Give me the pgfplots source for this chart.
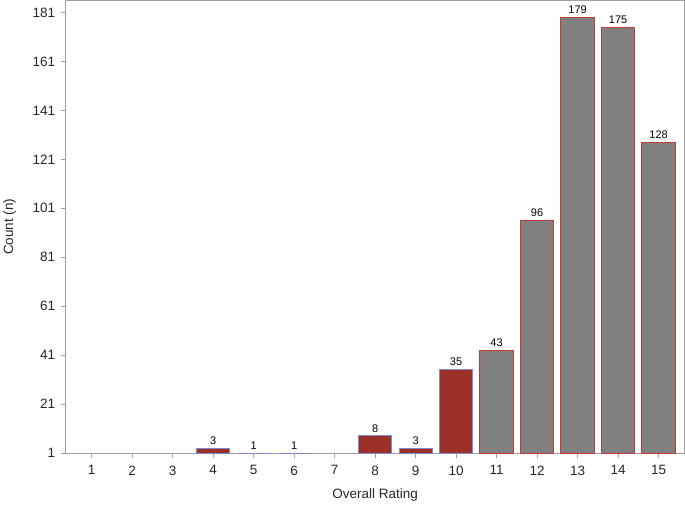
\documentclass[border=0pt]{standalone}
\usepackage{pgfplots}
\pgfplotsset{compat=1.18}
\usepackage{fontspec}
\setmainfont{Liberation Sans}
\definecolor{barred}{RGB}{155,48,40}
\definecolor{redline}{RGB}{130,140,205}
\definecolor{bargray}{RGB}{128,128,128}
\definecolor{grayline}{RGB}{195,60,50}
\definecolor{axisgray}{RGB}{160,160,160}
\begin{document}
\begin{tikzpicture}
\begin{axis}[
    scale only axis,
    width=618pt, height=452pt,
    xmin=0.36, xmax=15.64,
    ymin=1, ymax=185.9,
    xtick={1,...,15},
    ytick={1,21,...,181},
    tick align=outside,
    major tick length=5pt,
    tick style={axisgray, line width=1pt},
    axis line style={axisgray, line width=1pt},
    xtick pos=bottom, ytick pos=left,
    ticklabel style={font=\fontsize{13.5}{15}\selectfont, text=black!85},
    xticklabel style={yshift=-4pt},
    yticklabel style={xshift=-2pt},
    xlabel={Overall Rating},
    ylabel={Count (n)},
    label style={font=\fontsize{13.5}{15}\selectfont, text=black!85},
    xlabel style={at={(rel axis cs:0.5,0)}, anchor=center, yshift=-42pt},
    ylabel style={at={(rel axis cs:0,0.5)}, anchor=center, yshift=56pt},
    /pgf/number format/assume math mode=true,
    ybar, bar width=0.82, bar shift=0pt,
    nodes near coords,
    every node near coord/.append style={font=\fontsize{11}{12}\selectfont, text=black, yshift=0pt},
    clip=true,
]
\addplot[fill=barred, draw=redline, line width=1pt] coordinates {
(4,3)(5,1)(6,1)(8,8)(9,3)(10,35)};
\addplot[fill=bargray, draw=grayline, line width=1pt] coordinates {
(11,43)(12,96)(13,179)(14,175)(15,128)};
\end{axis}
\end{tikzpicture}
\end{document}
